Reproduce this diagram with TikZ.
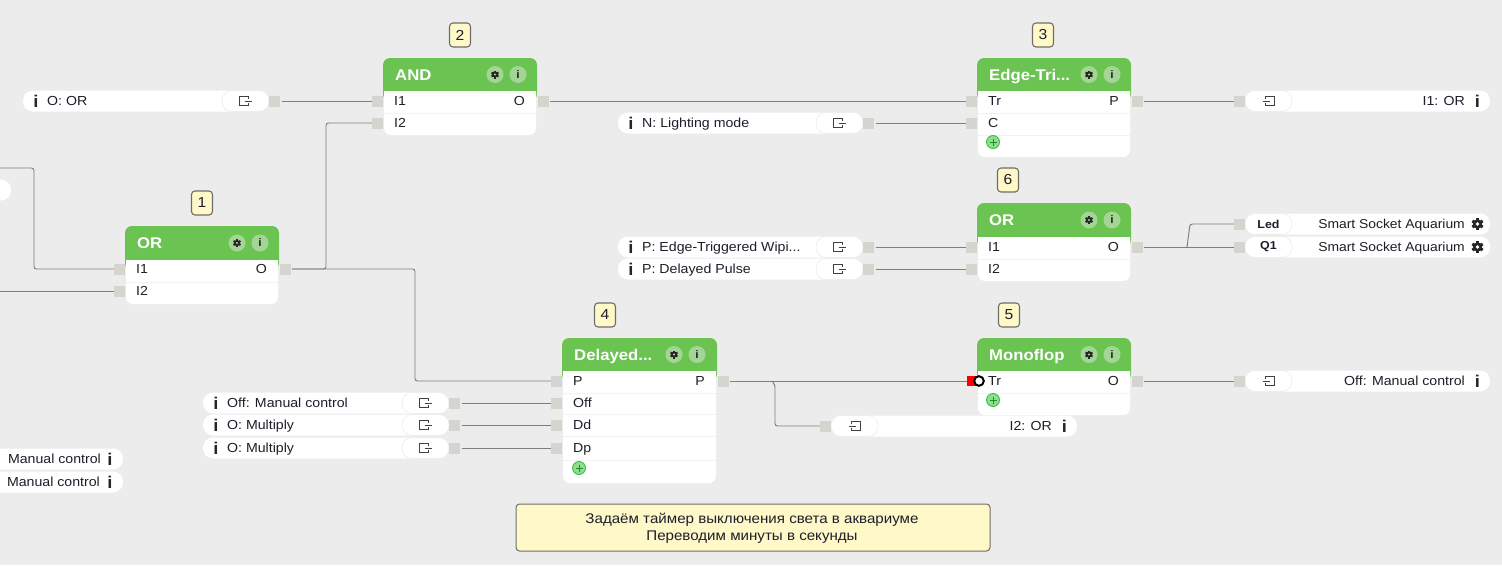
\documentclass[tikz,border=0pt]{standalone}
\usepackage{fontspec}
\setmainfont[FakeStretch=1.08]{Liberation Sans}
\definecolor{bgc}{HTML}{ECECEC}
\definecolor{hdrc}{HTML}{6BC352}
\definecolor{portc}{HTML}{D5D4CF}
\definecolor{wirec}{HTML}{7A7F81}
\definecolor{badgec}{HTML}{FFF8C9}
\definecolor{edgec}{HTML}{6E6E66}
\definecolor{capc}{HTML}{EEEEEE}
\definecolor{iconbg}{HTML}{A3D695}
\definecolor{txtc}{HTML}{1E1E2A}
\definecolor{plusf}{HTML}{8BE08B}
\definecolor{plusd}{HTML}{3DBB4D}
\tikzset{
  portbox/.style={fill=portc,draw=none,inner sep=0pt,minimum width=11pt,minimum height=11pt},
  wire/.style={draw=wirec,line width=.95pt,rounded corners=2.5pt},
  lbl/.style={inner sep=0pt,font=\fontsize{13.1}{15}\selectfont,text=txtc},
  ttl/.style={inner sep=0pt,font=\bfseries\fontsize{15.5}{18}\selectfont,text=white},
  badgebox/.style={fill=badgec,draw=edgec,line width=1.1pt,rounded corners=3.5pt,minimum width=21pt,minimum height=24pt,inner sep=0pt,font=\fontsize{14.5}{16}\selectfont,text=txtc},
  notebox/.style={fill=badgec,draw=edgec,line width=1pt,rounded corners=3.5pt,inner sep=0pt,minimum width=474pt,minimum height=47pt},
  notetxt/.style={inner sep=0pt,align=center,font=\fontsize{14}{17}\selectfont,text=txtc},
  pillbox/.style={fill=white,draw=none,rounded corners=10pt,inner sep=0pt,minimum height=21pt},
  capbox/.style={fill=white,draw=capc,line width=.7pt,rounded corners=10pt,inner sep=0pt,minimum height=21pt,minimum width=47pt,font=\bfseries\fontsize{11.5}{13}\selectfont,text=txtc},
  infoi/.style={inner sep=0pt,font=\bfseries\fontsize{17}{19}\selectfont,text=black!85},
  iconln/.style={draw=black!75,line width=.9pt},
}
% gear icon: centre x, y, radius
\newcommand{\GearIcon}[4]{%
  \fill[black!85] (#1,#2) circle[radius=#3*0.78];
  \foreach \a in {30,90,...,330}{\draw[black!85,line width=#3*0.5pt] (#1,#2) -- ++(\a:#3);}
  \fill[#4] (#1,#2) circle[radius=#3*0.3];
}
\newcommand{\HeadIcons}[3]{% x2, y centre, offset for gear
  \pgfmathsetmacro{\gx}{#1-#3}\pgfmathsetmacro{\ix}{#1-#3+23}
  \fill[iconbg] (\gx,#2) circle[radius=8.5];
  \fill[iconbg] (\ix,#2) circle[radius=8.5];
  \GearIcon{\gx}{#2}{4}{iconbg}
  \node[inner sep=0pt,font=\bfseries\fontsize{11}{12}\selectfont,text=black!85] at (\ix,#2) {i};
}
% name, x1, x2, top, header bottom, bottom, title, gear offset
\newcommand{\FBlock}[8]{%
  \pgfmathsetmacro{\hb}{#5+10}
  \pgfmathsetmacro{\cx}{(#2+#3)/2}\pgfmathsetmacro{\cy}{(#4+#6)/2}
  \pgfmathsetmacro{\bh}{#6-#4}\pgfmathsetmacro{\bw}{#3-#2}
  \node[inner sep=0pt,minimum width=\bw pt,minimum height=\bh pt] (#1) at (\cx,\cy) {};
  \fill[hdrc,rounded corners=7pt] (#2,\hb) rectangle (#3,#4);
  \path[fill=white] (#2+1,#5) -- (#3-1,#5) [rounded corners=7pt] -- (#3-1,#6) -- (#2+1,#6) [sharp corners] -- cycle;
  \pgfmathsetmacro{\hy}{(#4+#5)/2}
  \pgfmathsetmacro{\tx}{#2+12}
  \node[ttl,anchor=base west] (#1-title) at (\tx,\hy+5.5) {#7};
  \HeadIcons{#3}{\hy}{#8}
}
% block node, port id, x1, y, label
\newcommand{\InP}[5]{%
  \pgfmathsetmacro{\px}{#3-5.5}\pgfmathsetmacro{\lx}{#3+11}
  \node[portbox] (#1-#2) at (\px,#4) {};
  \node[lbl,anchor=base west] at (\lx,#4+4.5) {#5};
}
\newcommand{\OutP}[5]{%
  \pgfmathsetmacro{\px}{#3+6}\pgfmathsetmacro{\lx}{#3-12}
  \node[portbox] (#1-#2) at (\px,#4) {};
  \node[lbl,anchor=base east] at (\lx,#4+4.5) {#5};
}
\newcommand{\RowRule}[3]{\draw[black!5,line width=.7pt] (#1+1,#3) -- (#2-1,#3);}
\newcommand{\PlusIcon}[2]{%
  \draw[fill=plusf,draw=plusd,line width=.9pt] (#1,#2) circle[radius=6.5];
  \draw[plusd!70!black,line width=.7pt] (#1-3.5,#2) -- (#1+3.5,#2) (#1,#2-3.5) -- (#1,#2+3.5);
}
\newcommand{\BoxArrow}[2]{% centre, xscale
  \begin{scope}[shift={(#1)},xscale=#2]
    \draw[iconln] (3,-2) -- (3,-4.5) -- (-6,-4.5) -- (-6,4.5) -- (3,4.5) -- (3,2);
    \draw[iconln] (-1,0) -- (6,0);
  \end{scope}
}
% name, x1, x2, y, text : source pill, port on the right
\newcommand{\SrcPill}[5]{%
  \pgfmathsetmacro{\pw}{#3-#2}\pgfmathsetmacro{\pc}{(#2+#3)/2}
  \pgfmathsetmacro{\cc}{#3-23.5}\pgfmathsetmacro{\ppx}{#3+5.5}
  \pgfmathsetmacro{\ii}{#2+13}\pgfmathsetmacro{\tx}{#2+24}
  \node[pillbox,minimum width=\pw pt] (#1) at (\pc,#4) {};
  \node[capbox] (#1-cap) at (\cc,#4) {};
  \BoxArrow{\cc,#4}{1}
  \node[portbox] (#1-p) at (\ppx,#4) {};
  \node[infoi] at (\ii,#4) {i};
  \node[lbl,anchor=base west] at (\tx,#4+4) {#5};
}
% name, x1, x2, y, text : target pill, port on the left
\newcommand{\DstPill}[5]{%
  \pgfmathsetmacro{\pw}{#3-#2}\pgfmathsetmacro{\pc}{(#2+#3)/2}
  \pgfmathsetmacro{\cc}{#2+23.5}\pgfmathsetmacro{\ppx}{#2-5.5}
  \pgfmathsetmacro{\ii}{#3-12.5}\pgfmathsetmacro{\tx}{#3-25}
  \node[pillbox,minimum width=\pw pt] (#1) at (\pc,#4) {};
  \node[capbox] (#1-cap) at (\cc,#4) {};
  \BoxArrow{\cc,#4}{-1}
  \node[portbox] (#1-p) at (\ppx,#4) {};
  \node[infoi] at (\ii,#4) {i};
  \node[lbl,anchor=base east] at (\tx,#4+4) {#5};
}
% name, x1, x2, y, cap text, text
\newcommand{\DevPill}[6]{%
  \pgfmathsetmacro{\pw}{#3-#2}\pgfmathsetmacro{\pc}{(#2+#3)/2}
  \pgfmathsetmacro{\cc}{#2+23.5}\pgfmathsetmacro{\ppx}{#2-5.5}
  \pgfmathsetmacro{\ii}{#3-12.5}\pgfmathsetmacro{\tx}{#3-25}
  \node[pillbox,minimum width=\pw pt] (#1) at (\pc,#4) {};
  \node[capbox] (#1-cap) at (\cc,#4) {#5};
  \node[portbox] (#1-p) at (\ppx,#4) {};
  \GearIcon{\ii}{#4}{6}{white}
  \node[lbl,anchor=base east,font=\fontsize{12.85}{15}\selectfont] at (\tx,#4+4) {#6};
}
\begin{document}
\begin{tikzpicture}[x=1pt,y=-1pt]
\useasboundingbox (0,0) rectangle (1502,565);
\clip (0,0) rectangle (1502,565);
\fill[bgc] (0,0) rectangle (1502,565);

% badges
\node[badgebox] (b2) at (460,35) {2};
\node[badgebox] (b1) at (202,203) {1};
\node[badgebox] (b3) at (1043,35) {3};
\node[badgebox] (b6) at (1008,180) {6};
\node[badgebox] (b4) at (605,315) {4};
\node[badgebox] (b5) at (1009,315) {5};

% blocks
\FBlock{or1}{125}{279}{226}{260}{304}{OR}{42}
\RowRule{125}{279}{282}
\InP{or1}{i1}{125}{269}{I1}\InP{or1}{i2}{125}{291}{I2}\OutP{or1}{o}{279}{269}{O}

\FBlock{and}{383}{537}{58}{91}{135}{AND}{42}
\RowRule{383}{537}{113}
\InP{and}{i1}{383}{101}{I1}\InP{and}{i2}{383}{123}{I2}\OutP{and}{o}{537}{101}{O}

\FBlock{edge}{977}{1131}{58}{91}{157}{Edge-Tri...}{42}
\RowRule{977}{1131}{113}\RowRule{977}{1131}{135}
\InP{edge}{tr}{977}{101}{Tr}\InP{edge}{c}{977}{123}{C}\OutP{edge}{p}{1131}{101}{P}
\PlusIcon{993}{142}

\FBlock{orb}{977}{1131}{203}{237}{281}{OR}{42}
\RowRule{977}{1131}{259}
\InP{orb}{i1}{977}{247}{I1}\InP{orb}{i2}{977}{269}{I2}\OutP{orb}{o}{1131}{247}{O}

\FBlock{del}{562}{717}{338}{371}{483}{Delayed...}{43}
\RowRule{562}{717}{393}\RowRule{562}{717}{414}\RowRule{562}{717}{436}\RowRule{562}{717}{460}
\InP{del}{p}{562}{381}{P}\InP{del}{off}{562}{403}{Off}\InP{del}{dd}{562}{425}{Dd}\InP{del}{dp}{562}{448}{Dp}\OutP{del}{o}{717}{381}{P}
\PlusIcon{579}{468}

\FBlock{mono}{977}{1131}{338}{371}{415}{Monoflop}{42}
\RowRule{977}{1131}{393}
\node[inner sep=0pt,minimum width=10pt,minimum height=10pt,fill=red] (mono-tr) at (972,381) {};
\node[lbl,anchor=base west] at (988,385.5) {Tr};
\OutP{mono}{o}{1131}{381}{O}
\PlusIcon{993}{400}
\draw[black,line width=2pt,fill=white] (979,381) circle[radius=4.8];

% pills
\SrcPill{po}{23}{269}{101}{O: OR}
\SrcPill{pn}{618}{863}{123}{N: Lighting mode}
\SrcPill{pe}{618}{863}{247}{P: Edge-Triggered Wipi...}
\SrcPill{pd}{618}{863}{269}{P: Delayed Pulse}
\SrcPill{pf}{203}{449}{403}{Off: Manual control}
\SrcPill{pm}{203}{449}{425}{O: Multiply}
\SrcPill{pq}{203}{449}{448}{O: Multiply}
\DstPill{ta}{1245}{1490}{101}{I1: OR}
\DstPill{tb}{1245}{1490}{381}{Off: Manual control}
\DstPill{tc}{831}{1077}{426}{I2: OR}
\DevPill{da}{1245}{1490}{224}{Led}{Smart Socket Aquarium}
\DevPill{db}{1245}{1490}{247}{Q1}{Smart Socket Aquarium}

% pills cut by the left edge
\node[pillbox,minimum width=143pt] (mc1) at (51.5,459) {};
\node[lbl,anchor=base east] at (101,463) {Manual control};
\node[infoi] at (110,459) {i};
\node[pillbox,minimum width=143pt] (mc2) at (51.5,482) {};
\node[lbl,anchor=base east] at (100,486) {Manual control};
\node[infoi] at (110,482) {i};
\node[pillbox,minimum width=60pt] (cut) at (-19,190) {};

% note
\node[notebox] (note) at (753,527.5) {};
\node[notetxt] (notetext) at (752,528) {Задаём таймер выключения света в аквариуме\\Переводим минуты в секунды};

% wires
\coordinate (w1) at (0,168);
\coordinate (w2) at (0,291);
\draw[wire] (w1) -- (34,168) -- (34,269) -- (or1-i1.west);
\draw[wire] (w2) -- (or1-i2.west);
\draw[wire] ([xshift=1.5pt]or1-o.east) -- (326,269) -- (326,123) -- (and-i2.west);
\draw[wire] ([xshift=1.5pt]or1-o.east) -- (415,269) -- (415,381) -- (del-p.west);
\draw[wire] ([xshift=1.5pt]po-p.east) -- (and-i1.west);
\draw[wire] ([xshift=1.5pt]and-o.east) -- (edge-tr.west);
\draw[wire] ([xshift=1.5pt]pn-p.east) -- (edge-c.west);
\draw[wire] ([xshift=1.5pt]edge-p.east) -- (ta-p.west);
\draw[wire] ([xshift=1.5pt]pe-p.east) -- (orb-i1.west);
\draw[wire] ([xshift=1.5pt]pd-p.east) -- (orb-i2.west);
\draw[wire] ([xshift=1.5pt]orb-o.east) -- (db-p.west);
\draw[wire] (1187,247) -- (1190,224) -- (da-p.west);
\draw[wire] ([xshift=1.5pt]pf-p.east) -- (del-off.west);
\draw[wire] ([xshift=1.5pt]pm-p.east) -- (del-dd.west);
\draw[wire] ([xshift=1.5pt]pq-p.east) -- (del-dp.west);
\draw[wire] ([xshift=1.5pt]del-o.east) -- (mono-tr.west);
\draw[wire] (772,381) -- (775,385) -- (775,426) -- (tc-p.west);
\draw[wire] ([xshift=1.5pt]mono-o.east) -- (tb-p.west);
\end{tikzpicture}
\end{document}
